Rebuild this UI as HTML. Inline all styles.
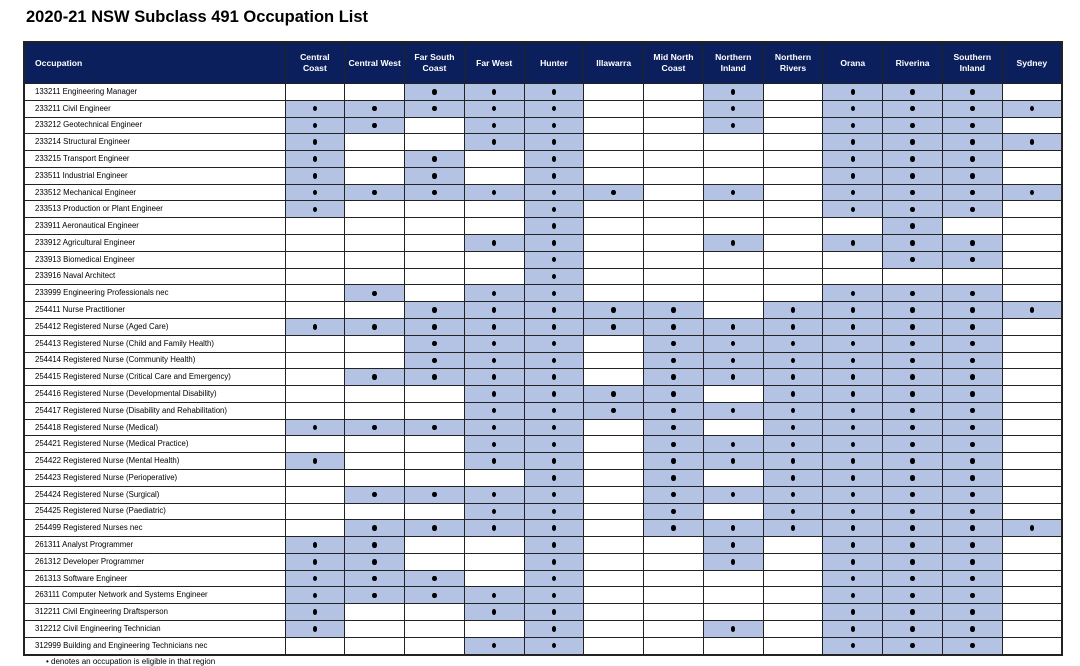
<!DOCTYPE html>
<html><head><meta charset="utf-8"><style>
body{margin:0;width:1080px;height:664px;background:#fff;overflow:hidden;font-family:"Liberation Sans",sans-serif;position:relative}
h1{position:absolute;left:26px;top:8px;margin:0;font-size:16.5px;font-weight:bold;color:#000}
table{position:absolute;left:23px;top:41px;width:1038px;border-collapse:collapse;table-layout:fixed;border:2px solid #222}
th{background:#0b1f5c;color:#fff;font-size:8.6px;font-weight:bold;height:40px;border:1px solid #222;padding:0;line-height:11px}
th.o{text-align:left;padding-left:10px}
td{height:15.79px;border:1px solid #222;padding:0;font-size:7.6px;text-align:center;line-height:10px}
td.n{text-align:left;padding-left:10px;font-size:7.8px}
td.b{background:#b4c3e3}
td.b:after{content:"";display:inline-block;width:4.5px;height:5.5px;border-radius:50%;background:#000;vertical-align:middle}
.f{position:absolute;left:46px;top:657px;font-size:8px}
</style></head><body>
<h1>2020-21 NSW Subclass 491 Occupation List</h1>
<table>
<colgroup><col style="width:261px"><col span="13" style="width:59.77px"></colgroup>
<tr><th class="o">Occupation</th><th>Central<br>Coast</th><th>Central West</th><th>Far South<br>Coast</th><th>Far West</th><th>Hunter</th><th>Illawarra</th><th>Mid North<br>Coast</th><th>Northern<br>Inland</th><th>Northern<br>Rivers</th><th>Orana</th><th>Riverina</th><th>Southern<br>Inland</th><th>Sydney</th></tr>
<tr><td class="n">133211 Engineering Manager</td><td></td><td></td><td class="b"></td><td class="b"></td><td class="b"></td><td></td><td></td><td class="b"></td><td></td><td class="b"></td><td class="b"></td><td class="b"></td><td></td></tr>
<tr><td class="n">233211 Civil Engineer</td><td class="b"></td><td class="b"></td><td class="b"></td><td class="b"></td><td class="b"></td><td></td><td></td><td class="b"></td><td></td><td class="b"></td><td class="b"></td><td class="b"></td><td class="b"></td></tr>
<tr><td class="n">233212 Geotechnical Engineer</td><td class="b"></td><td class="b"></td><td></td><td class="b"></td><td class="b"></td><td></td><td></td><td class="b"></td><td></td><td class="b"></td><td class="b"></td><td class="b"></td><td></td></tr>
<tr><td class="n">233214 Structural Engineer</td><td class="b"></td><td></td><td></td><td class="b"></td><td class="b"></td><td></td><td></td><td></td><td></td><td class="b"></td><td class="b"></td><td class="b"></td><td class="b"></td></tr>
<tr><td class="n">233215 Transport Engineer</td><td class="b"></td><td></td><td class="b"></td><td></td><td class="b"></td><td></td><td></td><td></td><td></td><td class="b"></td><td class="b"></td><td class="b"></td><td></td></tr>
<tr><td class="n">233511 Industrial Engineer</td><td class="b"></td><td></td><td class="b"></td><td></td><td class="b"></td><td></td><td></td><td></td><td></td><td class="b"></td><td class="b"></td><td class="b"></td><td></td></tr>
<tr><td class="n">233512 Mechanical Engineer</td><td class="b"></td><td class="b"></td><td class="b"></td><td class="b"></td><td class="b"></td><td class="b"></td><td></td><td class="b"></td><td></td><td class="b"></td><td class="b"></td><td class="b"></td><td class="b"></td></tr>
<tr><td class="n">233513 Production or Plant Engineer</td><td class="b"></td><td></td><td></td><td></td><td class="b"></td><td></td><td></td><td></td><td></td><td class="b"></td><td class="b"></td><td class="b"></td><td></td></tr>
<tr><td class="n">233911 Aeronautical Engineer</td><td></td><td></td><td></td><td></td><td class="b"></td><td></td><td></td><td></td><td></td><td></td><td class="b"></td><td></td><td></td></tr>
<tr><td class="n">233912 Agricultural Engineer</td><td></td><td></td><td></td><td class="b"></td><td class="b"></td><td></td><td></td><td class="b"></td><td></td><td class="b"></td><td class="b"></td><td class="b"></td><td></td></tr>
<tr><td class="n">233913 Biomedical Engineer</td><td></td><td></td><td></td><td></td><td class="b"></td><td></td><td></td><td></td><td></td><td></td><td class="b"></td><td class="b"></td><td></td></tr>
<tr><td class="n">233916 Naval Architect</td><td></td><td></td><td></td><td></td><td class="b"></td><td></td><td></td><td></td><td></td><td></td><td></td><td></td><td></td></tr>
<tr><td class="n">233999 Engineering Professionals nec</td><td></td><td class="b"></td><td></td><td class="b"></td><td class="b"></td><td></td><td></td><td></td><td></td><td class="b"></td><td class="b"></td><td class="b"></td><td></td></tr>
<tr><td class="n">254411 Nurse Practitioner</td><td></td><td></td><td class="b"></td><td class="b"></td><td class="b"></td><td class="b"></td><td class="b"></td><td></td><td class="b"></td><td class="b"></td><td class="b"></td><td class="b"></td><td class="b"></td></tr>
<tr><td class="n">254412 Registered Nurse (Aged Care)</td><td class="b"></td><td class="b"></td><td class="b"></td><td class="b"></td><td class="b"></td><td class="b"></td><td class="b"></td><td class="b"></td><td class="b"></td><td class="b"></td><td class="b"></td><td class="b"></td><td></td></tr>
<tr><td class="n">254413 Registered Nurse (Child and Family Health)</td><td></td><td></td><td class="b"></td><td class="b"></td><td class="b"></td><td></td><td class="b"></td><td class="b"></td><td class="b"></td><td class="b"></td><td class="b"></td><td class="b"></td><td></td></tr>
<tr><td class="n">254414 Registered Nurse (Community Health)</td><td></td><td></td><td class="b"></td><td class="b"></td><td class="b"></td><td></td><td class="b"></td><td class="b"></td><td class="b"></td><td class="b"></td><td class="b"></td><td class="b"></td><td></td></tr>
<tr><td class="n">254415 Registered Nurse (Critical Care and Emergency)</td><td></td><td class="b"></td><td class="b"></td><td class="b"></td><td class="b"></td><td></td><td class="b"></td><td class="b"></td><td class="b"></td><td class="b"></td><td class="b"></td><td class="b"></td><td></td></tr>
<tr><td class="n">254416 Registered Nurse (Developmental Disability)</td><td></td><td></td><td></td><td class="b"></td><td class="b"></td><td class="b"></td><td class="b"></td><td></td><td class="b"></td><td class="b"></td><td class="b"></td><td class="b"></td><td></td></tr>
<tr><td class="n">254417 Registered Nurse (Disability and Rehabilitation)</td><td></td><td></td><td></td><td class="b"></td><td class="b"></td><td class="b"></td><td class="b"></td><td class="b"></td><td class="b"></td><td class="b"></td><td class="b"></td><td class="b"></td><td></td></tr>
<tr><td class="n">254418 Registered Nurse (Medical)</td><td class="b"></td><td class="b"></td><td class="b"></td><td class="b"></td><td class="b"></td><td></td><td class="b"></td><td></td><td class="b"></td><td class="b"></td><td class="b"></td><td class="b"></td><td></td></tr>
<tr><td class="n">254421 Registered Nurse (Medical Practice)</td><td></td><td></td><td></td><td class="b"></td><td class="b"></td><td></td><td class="b"></td><td class="b"></td><td class="b"></td><td class="b"></td><td class="b"></td><td class="b"></td><td></td></tr>
<tr><td class="n">254422 Registered Nurse (Mental Health)</td><td class="b"></td><td></td><td></td><td class="b"></td><td class="b"></td><td></td><td class="b"></td><td class="b"></td><td class="b"></td><td class="b"></td><td class="b"></td><td class="b"></td><td></td></tr>
<tr><td class="n">254423 Registered Nurse (Perioperative)</td><td></td><td></td><td></td><td></td><td class="b"></td><td></td><td class="b"></td><td></td><td class="b"></td><td class="b"></td><td class="b"></td><td class="b"></td><td></td></tr>
<tr><td class="n">254424 Registered Nurse (Surgical)</td><td></td><td class="b"></td><td class="b"></td><td class="b"></td><td class="b"></td><td></td><td class="b"></td><td class="b"></td><td class="b"></td><td class="b"></td><td class="b"></td><td class="b"></td><td></td></tr>
<tr><td class="n">254425 Registered Nurse (Paediatric)</td><td></td><td></td><td></td><td class="b"></td><td class="b"></td><td></td><td class="b"></td><td></td><td class="b"></td><td class="b"></td><td class="b"></td><td class="b"></td><td></td></tr>
<tr><td class="n">254499 Registered Nurses nec</td><td></td><td class="b"></td><td class="b"></td><td class="b"></td><td class="b"></td><td></td><td class="b"></td><td class="b"></td><td class="b"></td><td class="b"></td><td class="b"></td><td class="b"></td><td class="b"></td></tr>
<tr><td class="n">261311 Analyst Programmer</td><td class="b"></td><td class="b"></td><td></td><td></td><td class="b"></td><td></td><td></td><td class="b"></td><td></td><td class="b"></td><td class="b"></td><td class="b"></td><td></td></tr>
<tr><td class="n">261312 Developer Programmer</td><td class="b"></td><td class="b"></td><td></td><td></td><td class="b"></td><td></td><td></td><td class="b"></td><td></td><td class="b"></td><td class="b"></td><td class="b"></td><td></td></tr>
<tr><td class="n">261313 Software Engineer</td><td class="b"></td><td class="b"></td><td class="b"></td><td></td><td class="b"></td><td></td><td></td><td></td><td></td><td class="b"></td><td class="b"></td><td class="b"></td><td></td></tr>
<tr><td class="n">263111 Computer Network and Systems Engineer</td><td class="b"></td><td class="b"></td><td class="b"></td><td class="b"></td><td class="b"></td><td></td><td></td><td></td><td></td><td class="b"></td><td class="b"></td><td class="b"></td><td></td></tr>
<tr><td class="n">312211 Civil Engineering Draftsperson</td><td class="b"></td><td></td><td></td><td class="b"></td><td class="b"></td><td></td><td></td><td></td><td></td><td class="b"></td><td class="b"></td><td class="b"></td><td></td></tr>
<tr><td class="n">312212 Civil Engineering Technician</td><td class="b"></td><td></td><td></td><td></td><td class="b"></td><td></td><td></td><td class="b"></td><td></td><td class="b"></td><td class="b"></td><td class="b"></td><td></td></tr>
<tr><td class="n">312999 Building and Engineering Technicians nec</td><td></td><td></td><td></td><td class="b"></td><td class="b"></td><td></td><td></td><td></td><td></td><td class="b"></td><td class="b"></td><td class="b"></td><td></td></tr>
</table>
<div class="f">• denotes an occupation is eligible in that region</div>
</body></html>
